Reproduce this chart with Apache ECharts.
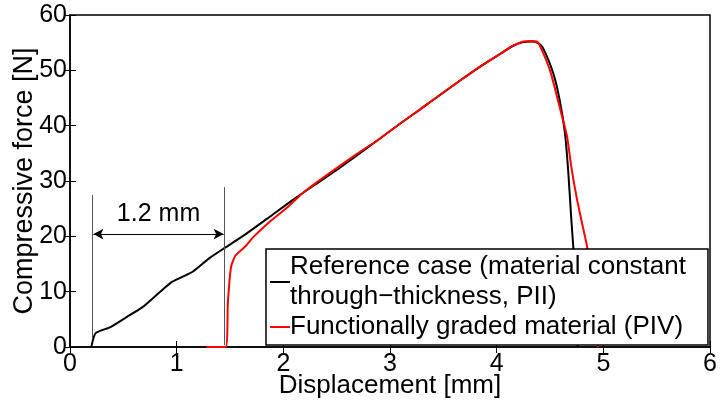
<!DOCTYPE html>
<html>
<head>
<meta charset="utf-8">
<script src="https://cdn.jsdelivr.net/npm/echarts@6/dist/echarts.min.js"></script>
<style>
html, body { margin: 0; padding: 0; background: #fff; }
#main { width: 720px; height: 403px; }
</style>
</head>
<body>
<div id="main"></div>
<script>
var myChart = echarts.init(document.getElementById('main'));

// displacement [mm] / force [N]
var refX = [0.2, 0.24, 0.38, 0.53, 0.68, 0.84, 0.96, 1.15, 1.31, 1.45, 1.64, 1.87, 2.09, 2.34, 2.53, 2.9, 3.09, 3.28, 3.4, 3.66, 3.87, 4.06, 4.15, 4.25, 4.33, 4.38, 4.43, 4.53, 4.59, 4.64, 4.67, 4.7, 4.72, 4.74, 4.76];
var refY = [0, 2.5, 3.6, 5.4, 7.2, 9.9, 11.8, 13.6, 16.1, 17.9, 20.3, 23.5, 26.6, 29.9, 32.4, 37.6, 40.3, 42.9, 44.6, 48.2, 51.0, 53.3, 54.4, 55.1, 55.2, 55.0, 54.2, 49.5, 44.7, 38.7, 32, 23, 17.5, 8, 0];
var fgmX = [1.28, 1.46, 1.48, 1.51, 1.55, 1.64, 1.72, 1.87, 2.03, 2.18, 2.41, 2.69, 2.9, 3.09, 3.28, 3.4, 3.66, 3.87, 4.06, 4.15, 4.25, 4.33, 4.39, 4.5, 4.59, 4.66, 4.7, 4.75, 4.8, 4.85, 4.9, 4.95];
var fgmY = [0, 0, 8, 14.5, 16.5, 18.1, 19.9, 22.6, 25.1, 27.8, 31.1, 34.9, 37.6, 40.3, 42.9, 44.6, 48.2, 51.0, 53.3, 54.4, 55.2, 55.3, 55, 50, 43.4, 38, 32.5, 27, 22.4, 17.9, 10, 0];

var seriesNames = ['Reference case (material constant\nthrough\u2212thickness, PII)', 'Functionally graded material (PIV)'];
// offset annotation
var gapX = [0.21, 1.45];
var gapTop = [27.5, 28.9];
var gapBottom = [1.6, 0.3];
var arrowY = 20.4;
var gapLabel = '1.2 mm';

function pairs(xs, ys) {
    return xs.map(function (x, i) { return [x, ys[i]]; });
}

var font = 'Liberation Sans, Arial, sans-serif';
var mirror = {
    min: 0, show: true, axisLine: { show: false },
    axisTick: { show: true, inside: true, length: 6, lineStyle: { color: '#000' } },
    axisLabel: { show: false }, splitLine: { show: false }
};

option = {
    animation: false,
    grid: {
        left: 70, right: 10, top: 15, bottom: 56,
        outerBoundsMode: 'none', containLabel: false,
        show: true, borderColor: '#000', borderWidth: 1.5
    },
    legend: {
        orient: 'vertical',
        left: 266, top: 249,
        padding: [3, 22, 3, 4],
        itemGap: 0,
        itemWidth: 20, itemHeight: 2,
        backgroundColor: '#fff',
        borderColor: '#000', borderWidth: 1.5,
        textStyle: { fontFamily: font, fontSize: 26, color: '#000', lineHeight: 30, padding: [0, 0, 0, -5] },
        data: [
            { name: seriesNames[0], icon: 'rect' },
            { name: seriesNames[1], icon: 'rect' }
        ]
    },
    xAxis: [{
        type: 'value', min: 0, max: 6, interval: 1,
        name: 'Displacement [mm]', nameLocation: 'middle', nameGap: 26, nameMoveOverlap: false,
        nameTextStyle: { fontFamily: font, fontSize: 26, color: '#000' },
        axisLine: { show: true, onZero: false, lineStyle: { color: '#000', width: 1.5 } },
        axisTick: { inside: true, length: 6, lineStyle: { color: '#000' } },
        axisLabel: { fontFamily: font, fontSize: 25, color: '#000', margin: 5 },
        splitLine: { show: false }
    }, Object.assign({ type: 'value', position: 'top', max: 6, interval: 1 }, mirror)],
    yAxis: [{
        type: 'value', min: 0, max: 60, interval: 10,
        name: 'Compressive force [N]', nameLocation: 'middle', nameGap: 32, nameMoveOverlap: false,
        nameTextStyle: { fontFamily: font, fontSize: 27, color: '#000' },
        axisLine: { show: true, onZero: false, lineStyle: { color: '#000', width: 1.5 } },
        axisTick: { inside: true, length: 6, lineStyle: { color: '#000' } },
        axisLabel: { fontFamily: font, fontSize: 25, color: '#000', margin: 3 },
        splitLine: { show: false }
    }, Object.assign({ type: 'value', position: 'right', max: 60, interval: 10 }, mirror)],
    series: [
        {
            name: seriesNames[0], type: 'line', showSymbol: false, symbol: 'none', smooth: 0.2,
            lineStyle: { color: '#000', width: 2 }, itemStyle: { color: '#000' },
            data: pairs(refX, refY), z: 3
        },
        {
            name: seriesNames[1], type: 'line', showSymbol: false, symbol: 'none', smooth: 0.2,
            lineStyle: { color: '#ff0000', width: 2 }, itemStyle: { color: '#ff0000' },
            data: pairs(fgmX, fgmY), z: 3
        },
        {
            name: 'gap', type: 'line', symbol: 'none', data: [],
            silent: true,
            markLine: {
                silent: true, symbol: 'none', animation: false,
                lineStyle: { color: '#555', width: 1, type: 'solid' },
                label: { show: false },
                data: [
                    [{ coord: [gapX[0], gapBottom[0]] }, { coord: [gapX[0], gapTop[0]] }],
                    [{ coord: [gapX[1], gapBottom[1]] }, { coord: [gapX[1], gapTop[1]] }],
                    [
                        { coord: [gapX[0] + 0.01, arrowY], symbol: 'arrow', symbolSize: [8, 10],
                          lineStyle: { color: '#000', width: 1 },
                          label: { show: true, position: 'insideMiddleTop', distance: 8, formatter: gapLabel,
                                   fontFamily: font, fontSize: 25, color: '#000' } },
                        { coord: [gapX[1] - 0.01, arrowY], symbol: 'arrow', symbolSize: [8, 10] }
                    ]
                ]
            }
        }
    ]
};
myChart.setOption(option);
</script>
</body>
</html>
